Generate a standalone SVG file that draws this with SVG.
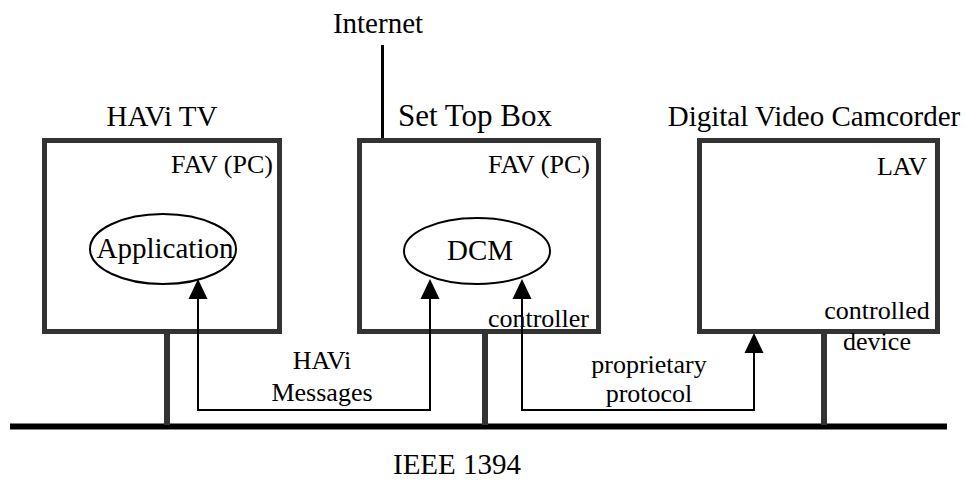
<svg xmlns="http://www.w3.org/2000/svg" width="965" height="481" viewBox="0 0 965 481" font-family="'Liberation Serif', 'DejaVu Serif', serif">
  <style>
    text { font-family: "Liberation Serif", "DejaVu Serif", "Times New Roman", serif; fill: #000; }
    .big { font-size: 29px; }
    .small { font-size: 26px; }
    .box { fill: #fff; stroke: #333; stroke-width: 5; }
    .drop { stroke: #333; stroke-width: 6; fill: none; }
    .ell { fill: #fff; stroke: #000; stroke-width: 2; }
    .conn { fill: none; stroke: #000; stroke-width: 2; }
    .head { fill: #000; }
  </style>
  <rect width="965" height="481" fill="#fff"/>

  <!-- IEEE 1394 bus -->
  <g id="bus">
    <line x1="10" y1="426.5" x2="947" y2="426.5" stroke="#000" stroke-width="6"/>
    <text class="big" x="457" y="474" text-anchor="middle">IEEE 1394</text>
  </g>

  <!-- Internet uplink -->
  <g id="internet">
    <text class="big" x="378" y="33" text-anchor="middle">Internet</text>
    <line x1="382.5" y1="45" x2="382.5" y2="139" stroke="#000" stroke-width="3"/>
  </g>

  <!-- HAVi TV -->
  <g id="havi-tv">
    <text class="big" x="162" y="126" text-anchor="middle">HAVi TV</text>
    <line class="drop" x1="167" y1="333" x2="167" y2="425"/>
    <rect class="box" x="44.5" y="140.5" width="235" height="191"/>
    <text class="small" x="273" y="173" text-anchor="end">FAV (PC)</text>
    <g id="application">
      <ellipse class="ell" cx="163" cy="249" rx="73" ry="35"/>
      <text class="big" x="165" y="258" text-anchor="middle">Application</text>
    </g>
  </g>

  <!-- Set Top Box -->
  <g id="set-top-box">
    <text x="475" y="126" font-size="31" text-anchor="middle">Set Top Box</text>
    <line class="drop" x1="485" y1="333" x2="485" y2="425"/>
    <rect class="box" x="359.5" y="140.5" width="239" height="191"/>
    <text class="small" x="590" y="173" text-anchor="end">FAV (PC)</text>
    <text class="small" x="589" y="327" text-anchor="end">controller</text>
    <g id="dcm">
      <ellipse class="ell" cx="477" cy="251" rx="73" ry="33"/>
      <text class="big" x="480" y="260" text-anchor="middle">DCM</text>
    </g>
  </g>

  <!-- Digital Video Camcorder -->
  <g id="camcorder">
    <text class="big" x="814" y="126" text-anchor="middle">Digital Video Camcorder</text>
    <line class="drop" x1="824" y1="333" x2="824" y2="425"/>
    <rect class="box" x="699.5" y="140.5" width="238" height="191"/>
    <text class="small" x="927" y="175" text-anchor="end">LAV</text>
    <text class="small" x="877" y="319" text-anchor="middle">controlled</text>
    <text class="small" x="877" y="350" text-anchor="middle">device</text>
  </g>

  <!-- message paths -->
  <g id="connectors">
    <polyline class="conn" points="198,298 198,410 430,410 430,298"/>
    <polygon class="head" points="198,279 188.5,299 207.5,299"/>
    <polygon class="head" points="430,279 420.5,299 439.5,299"/>
    <text class="small" x="322" y="369" text-anchor="middle">HAVi</text>
    <text class="small" x="322" y="401" text-anchor="middle">Messages</text>

    <polyline class="conn" points="522,298 522,410 754,410 754,352"/>
    <polygon class="head" points="522,279 512.5,299 531.5,299"/>
    <polygon class="head" points="754,333 744.5,353 763.5,353"/>
    <text class="small" x="649" y="373" text-anchor="middle">proprietary</text>
    <text class="small" x="649" y="402" text-anchor="middle">protocol</text>
  </g>
</svg>
